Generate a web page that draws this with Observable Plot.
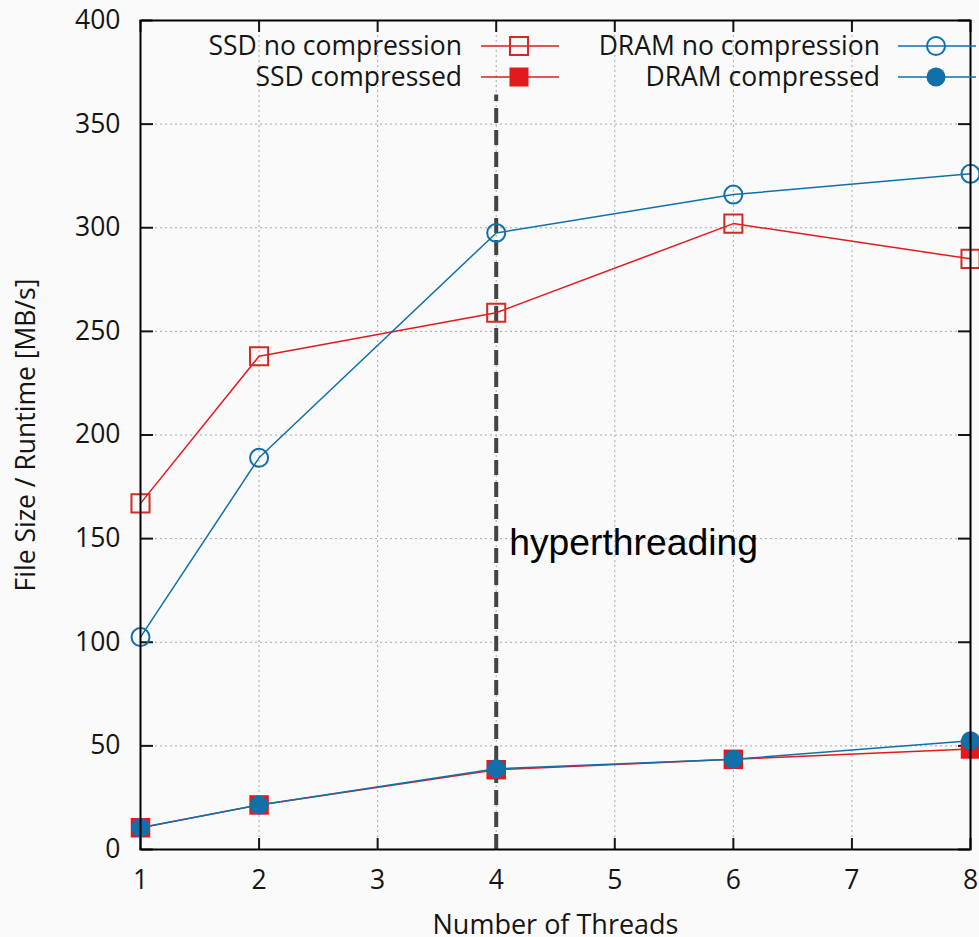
<!DOCTYPE html>
<html>
<head>
<meta charset="utf-8">
<script src="https://cdn.jsdelivr.net/npm/d3@7"></script>
<script src="https://cdn.jsdelivr.net/npm/@observablehq/plot@0.6"></script>
<style>
  html, body { margin: 0; padding: 0; background: #fafafa; }
  #wrap { position: relative; width: 979px; height: 937px; overflow: hidden; }
  #legend { position: absolute; left: 0; top: 0; pointer-events: none; }
</style>
</head>
<body>
<div id="wrap"></div>
<script>
// ---- data ----
const threads = [1, 2, 4, 6, 8];
const ssdNoCompression = [167, 238, 259, 302, 285];
const ssdCompressed = [10.5, 21.5, 38.5, 43.5, 48.5];
const dramNoCompression = [102.5, 189, 297.5, 316, 326];
const dramCompressed = [10.5, 21.5, 39, 43.5, 52.5];
const seriesNames = ["SSD no compression", "SSD compressed", "DRAM no compression", "DRAM compressed"];
const xTicks = [1, 2, 3, 4, 5, 6, 7, 8];
const yTicks = [0, 50, 100, 150, 200, 250, 300, 350, 400];
const hyperX = [4];
const hyperTop = 364;
const hyperLabel = "hyperthreading";
const hyperLabelY = 148;
const xLabel = "Number of Threads";
const yLabel = "File Size / Runtime [MB/s]";

const RED = "#e31a1c", RED_OPEN = "#d22b24", BLUE = "#1170aa";
const FONT = "'Open Sans', 'Noto Sans', sans-serif";
const FS = 26.5;

const toRows = (vals) => threads.map((t, i) => ({x: t, y: vals[i]}));
const sNo = toRows(ssdNoCompression), sC = toRows(ssdCompressed);
const dNo = toRows(dramNoCompression), dC = toRows(dramCompressed);

const chart = Plot.plot({
  width: 979, height: 937,
  marginLeft: 140, marginRight: 9, marginTop: 20, marginBottom: 88,
  x: {domain: [1, 8], ticks: xTicks, tickFormat: "d"},
  y: {domain: [0, 400], ticks: yTicks, tickFormat: "d"},
  style: {fontFamily: FONT, fontSize: FS + "px", background: "#fafafa", color: "#151515", overflow: "visible"},
  marks: [
    Plot.gridY(yTicks, {stroke: "#a8a8a8", strokeOpacity: 1, strokeDasharray: "2,3"}),
    Plot.gridX(xTicks, {stroke: "#a8a8a8", strokeOpacity: 1, strokeDasharray: "2,3"}),
    Plot.axisY(yTicks, {anchor: "left", tickSize: 0, tickPadding: 20, label: null, fontSize: FS, tickFormat: "d"}),
    Plot.axisX(xTicks, {anchor: "bottom", tickSize: 0, tickPadding: 21, label: null, fontSize: FS, tickFormat: "d"}),
    // inward-pointing tick marks on all four sides
    Plot.axisY(yTicks, {anchor: "right", frameAnchor: "left", tickSize: 12, text: null, label: null, strokeWidth: 2}),
    Plot.axisY(yTicks, {anchor: "left", frameAnchor: "right", tickSize: 12, text: null, label: null, strokeWidth: 2}),
    Plot.axisX(xTicks, {anchor: "top", frameAnchor: "bottom", tickSize: 12, text: null, label: null, strokeWidth: 2}),
    Plot.axisX(xTicks, {anchor: "bottom", frameAnchor: "top", tickSize: 12, text: null, label: null, strokeWidth: 2}),
    Plot.ruleX(hyperX, {y1: 0, y2: hyperTop, stroke: "#444", strokeWidth: 4, strokeDasharray: "15,7"}),
    Plot.text([hyperLabel], {x: hyperX[0], y: hyperLabelY, textAnchor: "start", dx: 13,
      fontFamily: "'Liberation Sans', Arial, sans-serif", fontSize: 37.3, fill: "#000"}),
    Plot.line(sNo, {x: "x", y: "y", stroke: RED, strokeWidth: 1.5}),
    Plot.dot(sNo, {x: "x", y: "y", symbol: "square", r: 10.2, stroke: RED_OPEN, strokeWidth: 2, fill: "none"}),
    Plot.line(sC, {x: "x", y: "y", stroke: RED, strokeWidth: 1.5}),
    Plot.dot(sC, {x: "x", y: "y", symbol: "square", r: 11, fill: RED, stroke: "none"}),
    Plot.line(dNo, {x: "x", y: "y", stroke: BLUE, strokeWidth: 1.5}),
    Plot.dot(dNo, {x: "x", y: "y", symbol: "circle", r: 9, stroke: BLUE, strokeWidth: 2, fill: "none"}),
    Plot.line(dC, {x: "x", y: "y", stroke: BLUE, strokeWidth: 1.5}),
    Plot.dot(dC, {x: "x", y: "y", symbol: "circle", r: 9.5, fill: BLUE, stroke: "none"}),
    Plot.frame({stroke: "#000", strokeWidth: 2}),
    Plot.text([yLabel], {frameAnchor: "left", rotate: -90, dx: -114, textAnchor: "middle", lineAnchor: "middle", fontSize: FS, fill: "#151515"}),
    Plot.text([xLabel], {frameAnchor: "bottom", dy: 76, textAnchor: "middle", lineAnchor: "middle", fontSize: 27, fill: "#151515"})
  ]
});
document.getElementById("wrap").appendChild(chart);

// ---- legend overlay (layout only) ----
const leg = d3.select("#wrap").append("svg").attr("id", "legend")
  .attr("width", 979).attr("height", 937)
  .style("font-family", FONT).style("font-size", FS + "px");
const entries = [
  {name: seriesNames[0], color: RED, open: RED_OPEN, shape: "square", filled: false, tx: 462, lx: 481, ty: 46},
  {name: seriesNames[1], color: RED, open: RED, shape: "square", filled: true, tx: 462, lx: 481, ty: 77},
  {name: seriesNames[2], color: BLUE, open: BLUE, shape: "circle", filled: false, tx: 880, lx: 898, ty: 46},
  {name: seriesNames[3], color: BLUE, open: BLUE, shape: "circle", filled: true, tx: 880, lx: 898, ty: 77}
];
for (const e of entries) {
  leg.append("text").attr("x", e.tx).attr("y", e.ty).attr("dy", "0.35em")
    .attr("text-anchor", "end").attr("fill", "#151515").text(e.name);
  leg.append("line").attr("x1", e.lx).attr("x2", e.lx + 78).attr("y1", e.ty).attr("y2", e.ty)
    .attr("stroke", e.color).attr("stroke-width", 1.5);
  const cx = e.lx + 38;
  if (e.shape === "square") {
    const s = e.filled ? 19 : 18;
    leg.append("rect").attr("x", cx - s / 2).attr("y", e.ty - s / 2).attr("width", s).attr("height", s)
      .attr("fill", e.filled ? e.color : "none").attr("stroke", e.filled ? "none" : e.open).attr("stroke-width", 2);
  } else {
    leg.append("circle").attr("cx", cx).attr("cy", e.ty).attr("r", e.filled ? 9.5 : 9)
      .attr("fill", e.filled ? e.color : "none").attr("stroke", e.filled ? "none" : e.color).attr("stroke-width", 2);
  }
}
</script>
</body>
</html>
